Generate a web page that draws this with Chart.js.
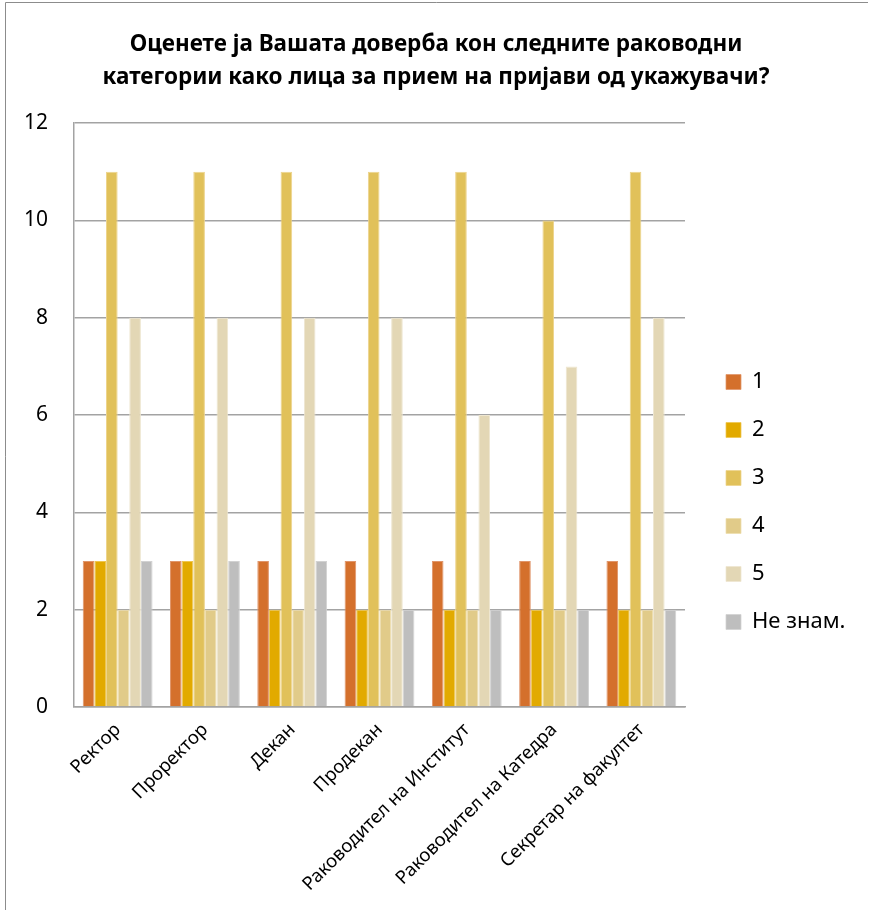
<!DOCTYPE html>
<html>
<head>
<meta charset="utf-8">
<script src="https://cdn.jsdelivr.net/npm/chart.js@4.4.1/dist/chart.umd.min.js"></script>
<style>
  html, body { margin: 0; padding: 0; background: #fff; }
  canvas { display: block; }
</style>
</head>
<body>
<canvas id="chart" width="872" height="910"></canvas>
<script>
// ─── ПОДАТОЦИ ───────────────────────────────────────────────────
const titleLines = [
  "Оценете ја Вашата доверба кон следните раководни",
  "категории како лица за прием на пријави од укажувачи?",
];
const categories = [
  "Ректор", "Проректор", "Декан", "Продекан",
  "Раководител на Институт", "Раководител на Катедра", "Секретар на факултет",
];
const seriesNames = ["1", "2", "3", "4", "5", "Не знам."];
const rating1 = [3, 3, 3, 3, 3, 3, 3];
const rating2 = [3, 3, 2, 2, 2, 2, 2];
const rating3 = [11, 11, 11, 11, 11, 10, 11];
const rating4 = [2, 2, 2, 2, 2, 2, 2];
const rating5 = [8, 8, 8, 8, 6, 7, 8];
const dontKnow = [3, 3, 3, 2, 2, 2, 2];
const yMax = 12;
const yStep = 2;

// ─── БОИ ────────────────────────────────────────────────────────
const COLORS = ["#D4702C", "#E2AA00", "#E1C15A", "#E1CB89", "#E3D7B5", "#BEBEBE"];
const EDGES  = ["#E0956A", "#EEC650", "#EDD48C", "#EDDDAE", "#EEE6D0", "#D2D2D2"];
const FONT = "'Noto Sans', 'Open Sans', sans-serif";
const GRID = "#A3A3A3";

const LEGEND_W = 187;     // фиксна ширина на легендата
const LEGEND_SHIFT = 15;  // поместување на ставките надесно

// рамка околу целата графика
const framePlugin = {
  id: "frame",
  beforeDraw(chart) {
    const ctx = chart.ctx;
    ctx.save();
    ctx.fillStyle = "#fff";
    ctx.fillRect(0, 0, chart.width, chart.height);
    ctx.strokeStyle = "#8c8c8c";
    ctx.lineWidth = 1;
    ctx.beginPath();
    ctx.moveTo(5.5, chart.height);
    ctx.lineTo(5.5, 2.5);
    ctx.lineTo(chart.width - 4, 2.5);
    ctx.stroke();
    ctx.restore();
  },
};

// легендата добива фиксна ширина, а ставките се малку поместени
const legendFitPlugin = {
  id: "legendFit",
  beforeLayout(chart) {
    const lg = chart.legend;
    if (lg && !lg.$fixed) {
      const fit = lg.fit;
      lg.fit = function () { fit.call(this); this.width = LEGEND_W; };
      lg.$fixed = true;
    }
  },
  afterLayout(chart) {
    const lg = chart.legend;
    if (lg) { lg.left += LEGEND_SHIFT; lg.right += LEGEND_SHIFT; }
  },
};

const seriesData = [rating1, rating2, rating3, rating4, rating5, dontKnow];

new Chart(document.getElementById("chart"), {
  type: "bar",
  data: {
    labels: categories,
    datasets: seriesNames.map((name, i) => ({
      label: name,
      data: seriesData[i],
      backgroundColor: COLORS[i],
      borderColor: EDGES[i],
      borderWidth: { left: 1, right: 1, top: 1, bottom: 0 },
      categoryPercentage: 0.8,
      barPercentage: 1.0,
    })),
  },
  options: {
    responsive: false,
    animation: false,
    devicePixelRatio: 1,
    layout: { padding: 0 },
    plugins: {
      title: {
        display: true,
        text: titleLines,
        color: "#000",
        font: { family: FONT, size: 22.5, weight: "bold", lineHeight: 1.47 },
        padding: { top: 28, bottom: 29 },
      },
      legend: {
        position: "right",
        title: { display: true, text: " ", padding: { top: 70, bottom: 0 }, font: { size: 20 } },
        labels: {
          boxWidth: 15,
          boxHeight: 15,
          padding: 26,
          color: "#000",
          font: { family: FONT, size: 22 },
        },
      },
      tooltip: { enabled: false },
    },
    scales: {
      x: {
        grid: { display: false },
        border: { display: true, color: GRID, width: 1.5 },
        ticks: {
          color: "#000",
          font: { family: FONT, size: 18.5 },
          minRotation: 45,
          maxRotation: 45,
          padding: 4,
        },
        afterFit(scale) { scale.height = 203; },
      },
      y: {
        min: 0,
        max: yMax,
        grid: { color: GRID, lineWidth: 1.5, drawTicks: false },
        border: { display: true, color: GRID, width: 1.5 },
        ticks: {
          stepSize: yStep,
          color: "#000",
          font: { family: FONT, size: 21 },
          padding: 26,
        },
        afterFit(scale) { scale.width = 74; },
      },
    },
  },
  plugins: [framePlugin, legendFitPlugin],
});
</script>
</body>
</html>
